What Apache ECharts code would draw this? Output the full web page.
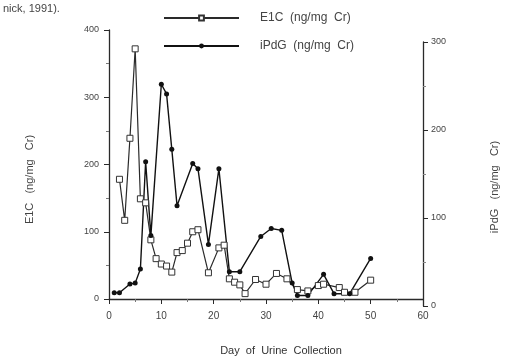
<!DOCTYPE html>
<html>
<head>
<meta charset="utf-8">
<script src="https://cdn.jsdelivr.net/npm/echarts/dist/echarts.min.js"></script>
<style>
  body { margin: 0; background: #fff; }
  #chart { width: 511px; height: 361px; }
</style>
</head>
<body>
<div id="chart"></div>
<script>
// E1C, left axis (ng/mg Cr)
var e1cDays = [2, 3, 4, 5, 6, 7, 8, 9, 10, 11, 12, 13, 14, 15, 16, 17, 19, 21, 22, 23, 24, 25, 26, 28, 30, 32, 34, 36, 38, 40, 41, 44, 45, 47, 50];
var e1cValues = [178, 117, 239, 372, 149, 143, 88, 60, 52, 49, 40, 69, 72, 83, 100, 103, 39, 76, 80, 30, 25, 21, 8, 29, 22, 38, 30, 14, 12, 20, 22, 17, 10, 10, 28];
// iPdG, right axis (ng/mg Cr)
var pdgDays = [1, 2, 4, 5, 6, 7, 8, 10, 11, 12, 13, 16, 17, 19, 21, 23, 25, 29, 31, 33, 35, 36, 38, 41, 43, 46, 50];
var pdgValues = [15, 15, 25, 26, 42, 164, 80, 252, 241, 178, 114, 162, 156, 70, 156, 39, 39, 79, 88, 86, 26, 12, 12, 36, 14, 14, 54];

var leftTicks = [0, 100, 200, 300, 400];
var rightTicks = [0, 100, 200, 300];
var dayTicks = [0, 10, 20, 30, 40, 50, 60];

function pairs(xs, ys) {
  return xs.map(function (x, i) { return [x, ys[i]]; });
}

var ink = '#2a2a2a';
var font = 'Liberation Sans';

var myChart = echarts.init(document.getElementById('chart'));
var option = {
  backgroundColor: '#fff',
  animation: false,
  title: {
    text: 'nick, 1991).',
    left: -2,
    top: -2,
    textStyle: { fontSize: 11, fontWeight: 'normal', color: '#444', fontFamily: font }
  },
  legend: {
    orient: 'vertical',
    left: 158,
    top: 7,
    itemWidth: 75,
    itemHeight: 6,
    itemGap: 16,
    textStyle: { fontSize: 12, color: '#444', fontFamily: font, padding: [0, 0, 0, 16] },
    data: ['E1C  (ng/mg  Cr)', 'iPdG  (ng/mg  Cr)']
  },
  grid: [
    { left: 109, right: 88, top: 30, bottom: 55 },
    { left: 109, right: 88, top: 42, bottom: 55 }
  ],
  xAxis: [
    {
      gridIndex: 0,
      type: 'value',
      min: 0, max: 60, interval: 10,
      name: 'Day  of  Urine  Collection',
      nameLocation: 'middle',
      nameGap: 46,
      nameTextStyle: { fontSize: 11, color: '#333', fontFamily: font, padding: [0, 0, 0, 30] },
      axisLine: { lineStyle: { color: ink, width: 1.3 } },
      axisTick: { length: 5, lineStyle: { color: ink } },
      minorTick: { show: true, splitNumber: 2, length: 3, lineStyle: { color: '#777' } },
      axisLabel: {
        fontSize: 10, color: '#444', fontFamily: font, margin: 12,
        formatter: function (v) { return dayTicks.indexOf(v) >= 0 ? String(v) : ''; }
      },
      splitLine: { show: false }
    },
    {
      gridIndex: 1,
      type: 'value',
      min: 0, max: 60, interval: 10,
      show: false
    }
  ],
  yAxis: [
    {
      gridIndex: 0,
      type: 'value',
      min: 0, max: 400, interval: 100,
      position: 'left',
      name: 'E1C   (ng/mg   Cr)',
      nameLocation: 'middle',
      nameGap: 74,
      nameTextStyle: { fontSize: 11, color: '#444', fontFamily: font, padding: [0, 30, 0, 0] },
      axisLine: { show: true, onZero: false, lineStyle: { color: ink, width: 1.3 } },
      axisTick: { show: true, length: 5, lineStyle: { color: ink } },
      minorTick: { show: true, splitNumber: 2, length: 3, lineStyle: { color: '#777' } },
      axisLabel: {
        fontSize: 9, color: '#444', fontFamily: font, margin: 10,
        formatter: function (v) { return leftTicks.indexOf(v) >= 0 ? String(v) : ''; }
      },
      splitLine: { show: false }
    },
    {
      gridIndex: 1,
      type: 'value',
      min: 0, max: 300, interval: 100,
      position: 'right',
      name: 'iPdG   (ng/mg   Cr)',
      nameLocation: 'middle',
      nameGap: 66,
      nameRotate: 90,
      nameTextStyle: { fontSize: 11, color: '#444', fontFamily: font, padding: [0, 26, 0, 0] },
      axisLine: { show: true, onZero: false, lineStyle: { color: ink, width: 1.3 } },
      axisTick: { show: true, length: 5, lineStyle: { color: ink } },
      minorTick: { show: true, splitNumber: 2, length: 3, lineStyle: { color: '#888' } },
      axisLabel: {
        fontSize: 9, color: '#444', fontFamily: font, margin: 8,
        formatter: function (v) { return rightTicks.indexOf(v) >= 0 ? String(v) : ''; }
      },
      splitLine: { show: false }
    }
  ],
  series: [
    {
      name: 'E1C  (ng/mg  Cr)',
      type: 'line',
      xAxisIndex: 0,
      yAxisIndex: 0,
      data: pairs(e1cDays, e1cValues),
      symbol: 'rect',
      symbolSize: 6,
      lineStyle: { color: ink, width: 1.2 },
      itemStyle: { color: '#fff', borderColor: '#333', borderWidth: 1 }
    },
    {
      name: 'iPdG  (ng/mg  Cr)',
      type: 'line',
      xAxisIndex: 1,
      yAxisIndex: 1,
      data: pairs(pdgDays, pdgValues),
      symbol: 'circle',
      symbolSize: 5,
      lineStyle: { color: '#111', width: 1.4 },
      itemStyle: { color: '#111' }
    }
  ]
};
myChart.setOption(option);
</script>
</body>
</html>
